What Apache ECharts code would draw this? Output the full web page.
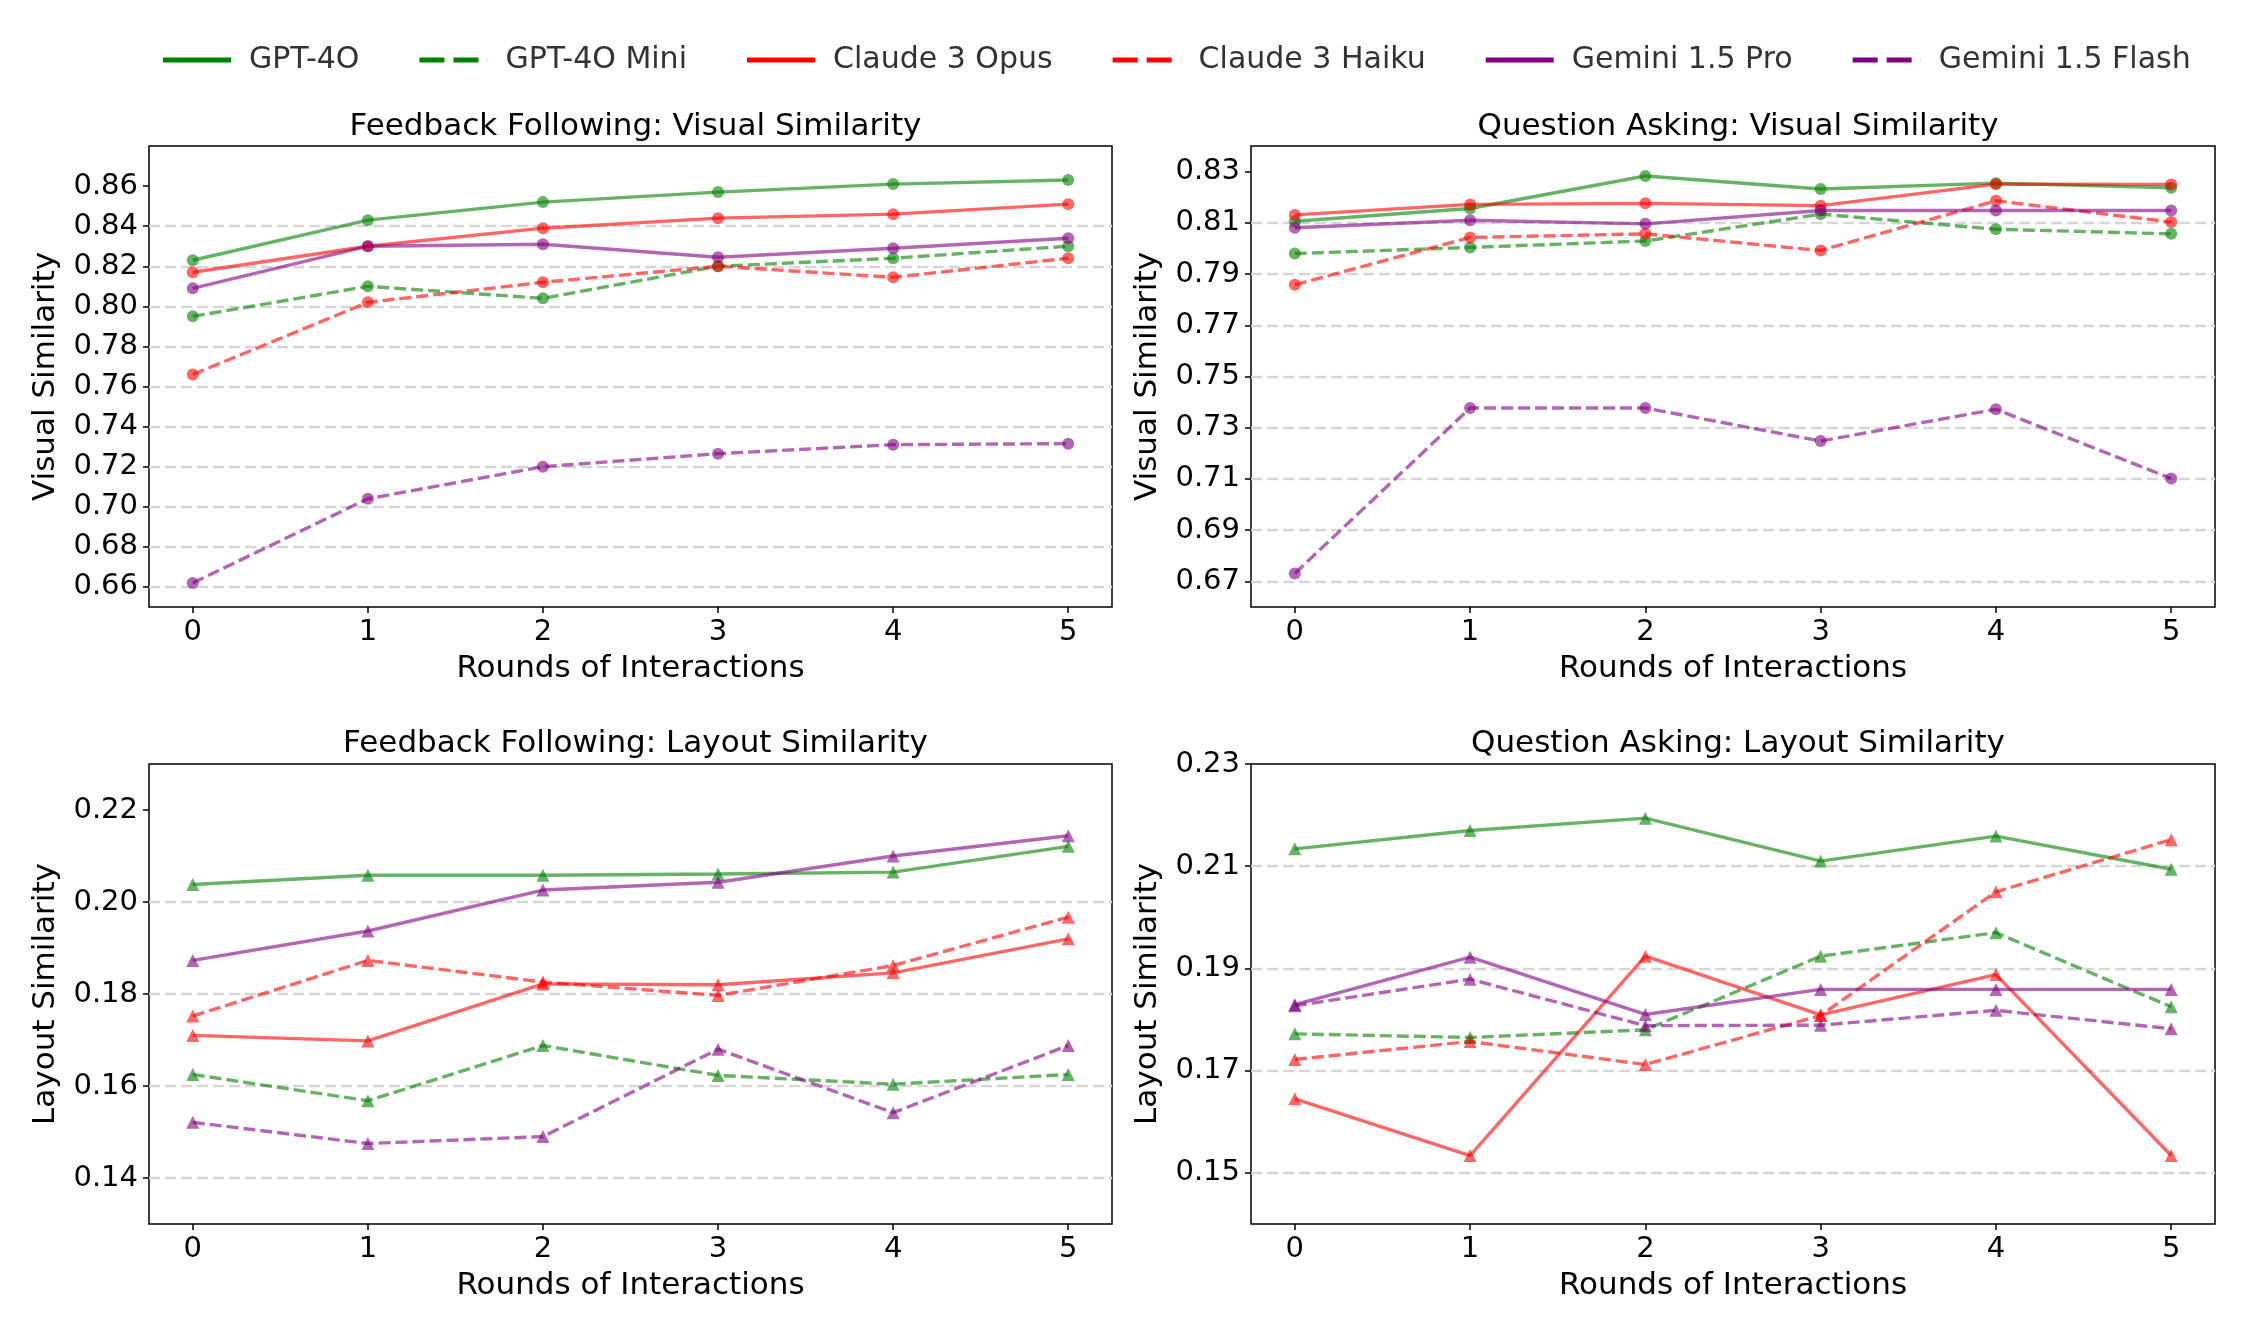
<!DOCTYPE html>
<html>
<head>
<meta charset="utf-8">
<script src="https://cdn.jsdelivr.net/npm/echarts@6/dist/echarts.min.js"></script>
<style>
html,body{margin:0;padding:0;background:#fff;}
#chart{width:2260px;height:1342px;}
</style>
</head>
<body>
<div id="chart"></div>
<script>
const rounds = [0, 1, 2, 3, 4, 5];
const models = ['GPT-4O', 'GPT-4O Mini', 'Claude 3 Opus', 'Claude 3 Haiku', 'Gemini 1.5 Pro', 'Gemini 1.5 Flash'];

// Feedback Following: Visual Similarity
const ffVis_GPT4O     = [0.823, 0.843, 0.852, 0.857, 0.861, 0.863];
const ffVis_GPT4OMini = [0.795, 0.810, 0.804, 0.820, 0.824, 0.830];
const ffVis_Opus      = [0.817, 0.830, 0.839, 0.844, 0.846, 0.851];
const ffVis_Haiku     = [0.766, 0.802, 0.812, 0.820, 0.8145, 0.824];
const ffVis_GemPro    = [0.809, 0.830, 0.831, 0.8245, 0.829, 0.834];
const ffVis_GemFlash  = [0.662, 0.704, 0.720, 0.7265, 0.731, 0.7315];

// Question Asking: Visual Similarity
const qaVis_GPT4O     = [0.8106, 0.8156, 0.8283, 0.8232, 0.8255, 0.8237];
const qaVis_GPT4OMini = [0.7980, 0.8004, 0.8029, 0.8134, 0.8075, 0.8057];
const qaVis_Opus      = [0.8131, 0.8172, 0.8176, 0.8167, 0.8251, 0.8250];
const qaVis_Haiku     = [0.7858, 0.8043, 0.8057, 0.7992, 0.8186, 0.8103];
const qaVis_GemPro    = [0.8081, 0.8110, 0.8096, 0.8148, 0.8148, 0.8148];
const qaVis_GemFlash  = [0.6731, 0.7377, 0.7377, 0.7248, 0.7372, 0.7102];

// Feedback Following: Layout Similarity
const ffLay_GPT4O     = [0.2038, 0.2058, 0.2058, 0.2061, 0.2065, 0.2121];
const ffLay_GPT4OMini = [0.1625, 0.1568, 0.1688, 0.1623, 0.1604, 0.1625];
const ffLay_Opus      = [0.1710, 0.1698, 0.1822, 0.1820, 0.1846, 0.1920];
const ffLay_Haiku     = [0.1752, 0.1873, 0.1826, 0.1797, 0.1862, 0.1967];
const ffLay_GemPro    = [0.1873, 0.1937, 0.2026, 0.2043, 0.2100, 0.2144];
const ffLay_GemFlash  = [0.1521, 0.1475, 0.1490, 0.1680, 0.1542, 0.1688];

// Question Asking: Layout Similarity
const qaLay_GPT4O     = [0.2134, 0.2170, 0.2194, 0.2110, 0.2159, 0.2094];
const qaLay_GPT4OMini = [0.1772, 0.1765, 0.1780, 0.1924, 0.1970, 0.1825];
const qaLay_Opus      = [0.1645, 0.1534, 0.1924, 0.1809, 0.1888, 0.1534];
const qaLay_Haiku     = [0.1722, 0.1757, 0.1712, 0.1808, 0.2050, 0.2152];
const qaLay_GemPro    = [0.1829, 0.1922, 0.1810, 0.1859, 0.1859, 0.1859];
const qaLay_GemFlash  = [0.1827, 0.1879, 0.1788, 0.1789, 0.1818, 0.1782];

// tick labels
const ffVisTicks = [0.66, 0.68, 0.70, 0.72, 0.74, 0.76, 0.78, 0.80, 0.82, 0.84, 0.86];
const qaVisTicks = [0.67, 0.69, 0.71, 0.73, 0.75, 0.77, 0.79, 0.81, 0.83];
const ffLayTicks = [0.14, 0.16, 0.18, 0.20, 0.22];
const qaLayTicks = [0.15, 0.17, 0.19, 0.21, 0.23];

const panelTitles = ['Feedback Following: Visual Similarity', 'Question Asking: Visual Similarity',
                     'Feedback Following: Layout Similarity', 'Question Asking: Layout Similarity'];
const yNames = ['Visual Similarity', 'Visual Similarity', 'Layout Similarity', 'Layout Similarity'];
const xName = 'Rounds of Interactions';

const panelData = [
  [ffVis_GPT4O, ffVis_GPT4OMini, ffVis_Opus, ffVis_Haiku, ffVis_GemPro, ffVis_GemFlash],
  [qaVis_GPT4O, qaVis_GPT4OMini, qaVis_Opus, qaVis_Haiku, qaVis_GemPro, qaVis_GemFlash],
  [ffLay_GPT4O, ffLay_GPT4OMini, ffLay_Opus, ffLay_Haiku, ffLay_GemPro, ffLay_GemFlash],
  [qaLay_GPT4O, qaLay_GPT4OMini, qaLay_Opus, qaLay_Haiku, qaLay_GemPro, qaLay_GemFlash]
];
const panelTicks = [ffVisTicks, qaVisTicks, ffLayTicks, qaLayTicks];
const panelRange = [[0.65, 0.88], [0.66, 0.84], [0.13, 0.23], [0.14, 0.23]];
const panelSymbol = ['circle', 'circle', 'triangle', 'triangle'];

const modelColors = ['#008000', '#008000', '#ff0000', '#ff0000', '#800080', '#800080'];
const modelDashed = [false, true, false, true, false, true];

const FONT = 'DejaVu Sans';
const grids = [
  {left: 149, top: 146, width: 963, height: 461},
  {left: 1251, top: 146, width: 964, height: 461},
  {left: 149, top: 764, width: 963, height: 460},
  {left: 1251, top: 764, width: 964, height: 460}
];
const titleTops = [106, 106, 723, 723];

const SOLID_ICON = 'path://M0,0h68v5h-68z';
const DASH_ICON = 'path://M0,0h25v5h-25z M34,0h25v5h-25z M67.9,0h0.1v5h-0.1z';

const option = {
  backgroundColor: '#ffffff',
  animation: false,
  textStyle: {fontFamily: FONT},
  title: grids.map((g, i) => ({
    text: panelTitles[i],
    left: g.left + g.width / 2,
    top: titleTops[i],
    textAlign: 'center',
    textStyle: {fontFamily: FONT, fontSize: 31, fontWeight: 'normal', color: '#000'}
  })),
  legend: {
    left: 158,
    top: 40,
    itemWidth: 68,
    itemHeight: 5,
    itemGap: 60,
    data: models.map((m, k) => ({name: m, icon: modelDashed[k] ? DASH_ICON : SOLID_ICON, itemStyle: {color: modelColors[k], opacity: 1, borderWidth: 0}})),
    textStyle: {fontFamily: FONT, fontSize: 30, color: '#333', padding: [0, 0, 0, 13]}
  },
  grid: grids.map(g => Object.assign({show: true, borderColor: '#000', borderWidth: 1.5, backgroundColor: '#fff'}, g)),
  xAxis: grids.map((g, i) => ({
    type: 'value',
    gridIndex: i,
    min: -0.25,
    max: 5.25,
    name: xName,
    nameLocation: 'middle',
    nameGap: 46,
    nameTextStyle: {fontFamily: FONT, fontSize: 31, color: '#000'},
    axisLine: {show: false, onZero: false},
    axisTick: {show: true, customValues: rounds, length: 6, lineStyle: {color: '#000', width: 1.5}},
    axisLabel: {customValues: rounds, margin: 11, fontFamily: FONT, fontSize: 29, color: '#000', formatter: v => String(v)},
    splitLine: {show: false}
  })),
  yAxis: grids.map((g, i) => ({
    type: 'value',
    gridIndex: i,
    min: panelRange[i][0],
    max: panelRange[i][1],
    name: yNames[i],
    nameLocation: 'middle',
    nameGap: 88,
    nameTextStyle: {fontFamily: FONT, fontSize: 31, color: '#000'},
    axisLine: {show: false, onZero: false},
    axisTick: {show: true, customValues: panelTicks[i], length: 6, lineStyle: {color: '#000', width: 1.5}},
    axisLabel: {customValues: panelTicks[i], margin: 11, fontFamily: FONT, fontSize: 29, color: '#000', formatter: v => v.toFixed(2)},
    splitLine: {show: true, showMaxLine: false, lineStyle: {color: '#d6d6d6', width: 2.4, type: [11, 5]}}
  }))
};

const series = [];
// legend-only handles (no data)
models.forEach((m, k) => {
  series.push({
    type: 'line', name: m, xAxisIndex: 0, yAxisIndex: 0, data: [], symbol: 'none',
    lineStyle: {color: modelColors[k], width: 5},
    itemStyle: {color: modelColors[k]}
  });
});
panelData.forEach((arrs, p) => {
  arrs.forEach((vals, k) => {
    series.push({
      type: 'line',
      name: models[k],
      xAxisIndex: p,
      yAxisIndex: p,
      data: rounds.map((r, j) => [r, vals[j]]),
      symbol: panelSymbol[p],
      symbolSize: panelSymbol[p] === 'circle' ? 12 : 13,
      showAllSymbol: true,
      lineStyle: {color: modelColors[k], width: 3.4, opacity: 0.6, type: modelDashed[k] ? [12, 5] : 'solid'},
      itemStyle: {color: modelColors[k], opacity: 0.6},
      emphasis: {disabled: true}
    });
  });
});
option.series = series;

const chart = echarts.init(document.getElementById('chart'), null, {renderer: 'canvas'});
chart.setOption(option);
</script>
</body>
</html>
